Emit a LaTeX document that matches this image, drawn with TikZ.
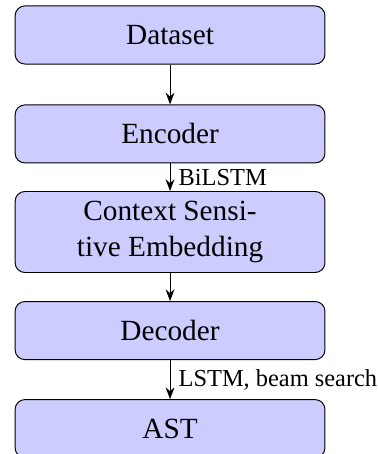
\documentclass[tikz,border=0pt]{standalone}
\usepackage{fontspec}
\setmainfont{Liberation Serif}
\usetikzlibrary{arrows.meta}

\tikzset{
  stage/.style={draw, rounded corners, fill=blue!20, minimum width=127pt,
    minimum height=23.8pt, align=center, font=\fontsize{12}{14.5}\selectfont},
  edgelabel/.style={right, font=\fontsize{10}{12}\selectfont}
}

\begin{document}
\begin{tikzpicture}[x=1pt, y=1pt, >=Stealth]
  \useasboundingbox (0,0) rectangle (154.6,-186.1);
  \node[stage] (dataset) at (69.7,-14.35) {Dataset};
  \node[stage] (encoder) at (69.7,-54.9) {Encoder};
  \node[stage, minimum height=33.2pt] (embed) at (69.7,-95.1) {Context Sensi-\\tive Embedding};
  \node[stage] (decoder) at (69.7,-135.5) {Decoder};
  \node[stage] (ast) at (69.7,-175.7) {AST};
  \draw[->] (dataset) -- (encoder);
  \draw[->] (encoder) -- node[edgelabel] {BiLSTM} (embed);
  \draw[->] (embed) -- (decoder);
  \draw[->] (decoder) -- node[edgelabel] {LSTM, beam search} (ast);
\end{tikzpicture}
\end{document}
